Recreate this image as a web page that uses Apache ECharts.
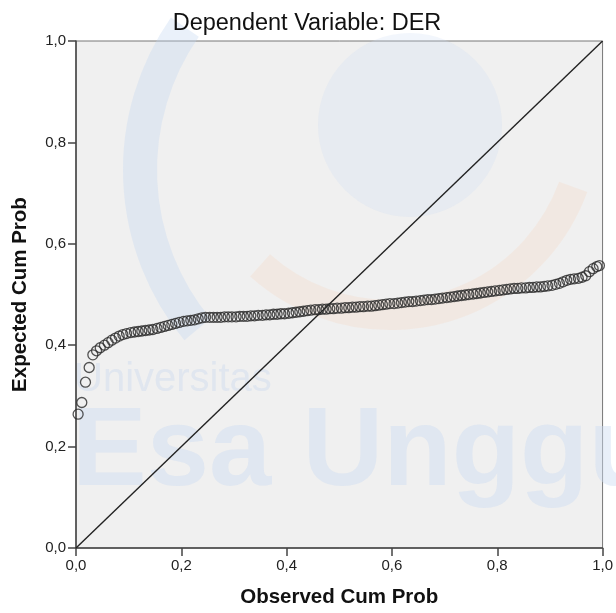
<!DOCTYPE html>
<html>
<head>
<meta charset="utf-8">
<script src="https://cdn.jsdelivr.net/npm/echarts@6/dist/echarts.min.js"></script>
<style>html,body{margin:0;padding:0;background:#fff;}#c{width:616px;height:613px;}</style>
</head>
<body>
<div id="c"></div>
<script>
var titleText = 'Dependent Variable: DER';
var xName = 'Observed Cum Prob';
var yName = 'Expected Cum Prob';
var watermarkSmall = 'Universitas';
var watermarkBig = 'Esa Unggul';

var observed = [
0.004,0.011,0.018,0.025,0.032,0.039,0.046,0.054,0.061,0.068,
0.075,0.082,0.089,0.096,0.104,0.111,0.118,0.125,0.132,0.139,
0.146,0.154,0.161,0.168,0.175,0.182,0.189,0.196,0.204,0.211,
0.218,0.225,0.232,0.239,0.246,0.254,0.261,0.268,0.275,0.282,
0.289,0.296,0.304,0.311,0.318,0.325,0.332,0.339,0.346,0.354,
0.361,0.368,0.375,0.382,0.389,0.396,0.404,0.411,0.418,0.425,
0.432,0.439,0.446,0.454,0.461,0.468,0.475,0.482,0.489,0.496,
0.504,0.511,0.518,0.525,0.532,0.539,0.546,0.554,0.561,0.568,
0.575,0.582,0.589,0.596,0.604,0.611,0.618,0.625,0.632,0.639,
0.646,0.654,0.661,0.668,0.675,0.682,0.689,0.696,0.704,0.711,
0.718,0.725,0.732,0.739,0.746,0.754,0.761,0.768,0.775,0.782,
0.789,0.796,0.804,0.811,0.818,0.825,0.832,0.839,0.846,0.854,
0.861,0.868,0.875,0.882,0.889,0.896,0.904,0.911,0.918,0.925,
0.932,0.939,0.946,0.954,0.961,0.968,0.975,0.982,0.989,0.994
];
var expected = [
0.264,0.287,0.327,0.356,0.381,0.389,0.395,0.400,0.405,0.410,
0.414,0.418,0.421,0.423,0.425,0.426,0.427,0.428,0.429,0.430,
0.431,0.433,0.435,0.437,0.439,0.441,0.443,0.445,0.447,0.448,
0.449,0.450,0.452,0.454,0.455,0.455,0.455,0.455,0.455,0.456,
0.456,0.456,0.456,0.457,0.457,0.457,0.458,0.458,0.459,0.459,
0.460,0.460,0.461,0.461,0.462,0.462,0.463,0.464,0.465,0.466,
0.467,0.468,0.469,0.470,0.470,0.471,0.471,0.472,0.472,0.473,
0.473,0.474,0.474,0.475,0.475,0.476,0.476,0.477,0.477,0.478,
0.479,0.480,0.481,0.482,0.482,0.483,0.484,0.485,0.486,0.486,
0.487,0.488,0.489,0.490,0.490,0.491,0.492,0.493,0.494,0.495,
0.496,0.497,0.498,0.499,0.500,0.501,0.502,0.503,0.504,0.505,
0.506,0.507,0.508,0.509,0.510,0.511,0.512,0.512,0.513,0.513,
0.514,0.514,0.515,0.515,0.516,0.517,0.518,0.520,0.522,0.525,
0.528,0.530,0.531,0.532,0.534,0.537,0.545,0.551,0.555,0.557
];
var refLine = [[0, 0], [1, 1]];

var points = observed.map(function (x, i) { return [x, expected[i]]; });
function fmt(v) { return v.toFixed(1).replace('.', ','); }

var chart = echarts.init(document.getElementById('c'), null, { renderer: 'canvas' });
var FONT = 'Liberation Sans, Arial, sans-serif';
var axisCommon = {
  min: 0, max: 1, interval: 0.2,
  axisLine: { show: true, lineStyle: { color: '#444', width: 1.5 } },
  axisTick: { show: true, inside: false, length: 8, lineStyle: { color: '#444', width: 1.5 } },
  axisLabel: { color: '#222', fontSize: 15, fontFamily: FONT, formatter: fmt },
  splitLine: { show: false }
};
chart.setOption({
  animation: false,
  backgroundColor: '#ffffff',
  title: {
    text: titleText, left: 302, top: 7, textAlign: 'center',
    textStyle: { fontFamily: FONT, fontSize: 23.5, fontWeight: 'normal', color: '#111' }
  },
  grid: {
    left: 76, right: 12, top: 41, bottom: 62,
    show: true, backgroundColor: '#f0f0f0', borderColor: '#777', borderWidth: 1
  },
  graphic: [
    { type: 'arc', z: 1, silent: true, shape: { cx: 390, cy: 170, r: 250, startAngle: 2.45, endAngle: 3.75 },
      style: { stroke: 'rgba(196,214,242,0.35)', lineWidth: 34, fill: null } },
    { type: 'arc', z: 1, silent: true, shape: { cx: 390, cy: 120, r: 195, startAngle: 0.35, endAngle: 2.3 },
      style: { stroke: 'rgba(246,214,196,0.30)', lineWidth: 30, fill: null } },
    { type: 'circle', z: 1, silent: true, shape: { cx: 410, cy: 125, r: 92 }, style: { fill: 'rgba(205,220,242,0.25)' } },
    { type: 'text', z: 1, silent: true, left: 74, top: 360, style: { text: watermarkSmall, fontFamily: FONT, fontSize: 40, fontWeight: 'normal', fill: 'rgba(200,214,238,0.40)' } },
    { type: 'text', z: 1, silent: true, left: 72, top: 398, style: { text: watermarkBig, fontFamily: FONT, fontSize: 112, fontWeight: 'bold', fill: 'rgba(205,220,242,0.45)' } }
  ],
  xAxis: Object.assign({}, axisCommon, {
    type: 'value', name: xName, nameLocation: 'middle', nameGap: 39,
    nameTextStyle: { fontFamily: FONT, fontSize: 20.5, fontWeight: 'bold', color: '#111' },
    axisLabel: Object.assign({}, axisCommon.axisLabel, { margin: 10 })
  }),
  yAxis: Object.assign({}, axisCommon, {
    type: 'value', name: yName, nameLocation: 'middle', nameGap: 45,
    nameTextStyle: { fontFamily: FONT, fontSize: 20.5, fontWeight: 'bold', color: '#111' },
    axisLabel: Object.assign({}, axisCommon.axisLabel, { margin: 10 })
  }),
  series: [
    {
      type: 'line', data: refLine, symbol: 'none', z: 3,
      lineStyle: { color: '#222', width: 1.4 }
    },
    {
      type: 'scatter', data: points, symbol: 'circle', symbolSize: 10, z: 4,
      itemStyle: { color: 'rgba(0,0,0,0)', borderColor: '#2a2a2a', borderWidth: 1.3 }
    }
  ]
});
</script>
</body>
</html>
